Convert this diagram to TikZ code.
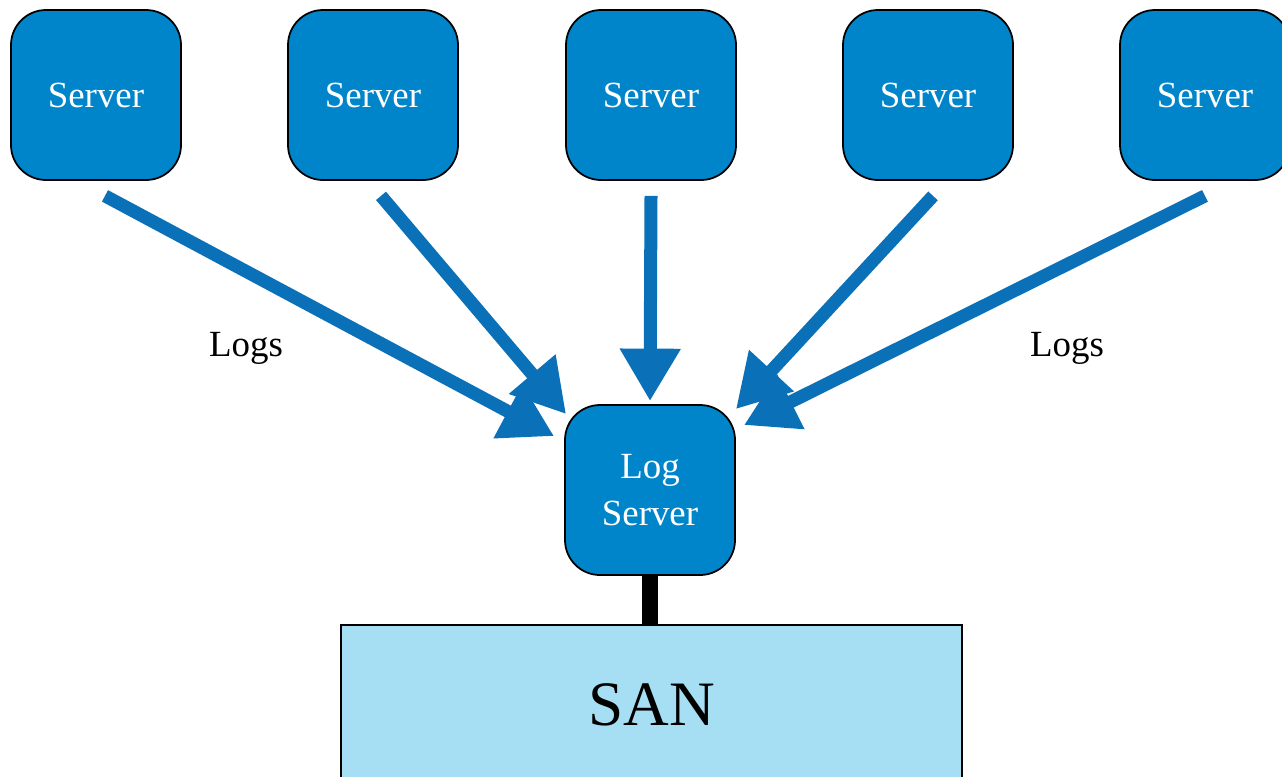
\documentclass[tikz,border=0pt]{standalone}
\usepackage{fontspec}
\setmainfont{Liberation Serif}
\usetikzlibrary{arrows.meta,positioning}
\definecolor{serverblue}{RGB}{0,133,202}
\definecolor{arrowblue}{RGB}{10,113,184}
\definecolor{sanblue}{RGB}{166,222,243}
\begin{document}
\begin{tikzpicture}[server/.style={rectangle,rounded corners=0.7cm,draw,line width=1pt,
		fill=serverblue,text=white,minimum size=3.4cm,inner sep=0,align=center,
		font=\fontsize{21}{27}\selectfont},
	logarrow/.style={arrowblue,line width=0.26cm,-{Triangle[length=1.05cm,width=1.15cm]}},
	san/.style={rectangle,draw,line width=1pt,fill=sanblue,minimum width=12.42cm,
		minimum height=4cm,anchor=north,font=\fontsize{36}{40}\selectfont}]
\clip (0,0) rectangle (25.64,-15.52);
% the five servers in a row
\foreach \i/\x in {1/1.92,2/7.46,3/13.02,4/18.56,5/24.1}
	\node[server] (s\i) at (\x,-1.9) {\raisebox{-1pt}{Server}};
\node[server] (log) at (13,-9.8) {Log\\Server};
\node[san] (san) at (13.03,-12.48) {};
\node at (13.03,-14.1) {\fontsize{36}{40}\selectfont SAN};
\draw[line width=0.32cm] (log.south) -- (log.south |- san.north);
% log traffic
\draw[logarrow] ([xshift=0.18cm,yshift=-0.3cm]s1.south) -- ([xshift=-0.2cm,yshift=-0.64cm]log.north west);
\draw[logarrow] ([xshift=0.16cm,yshift=-0.3cm]s2.south) -- ([xshift=0.04cm,yshift=-0.2cm]log.north west);
\draw[logarrow] ([yshift=-0.3cm]s3.south) -- ([yshift=0.06cm]log.north);
\draw[logarrow] ([xshift=0.1cm,yshift=-0.3cm]s4.south) -- ([yshift=-0.1cm]log.north east);
\draw[logarrow] ([yshift=-0.3cm]s5.south) -- ([xshift=0.16cm,yshift=-0.42cm]log.north east);
\node[font=\fontsize{21}{27}\selectfont] (logsl) at (4.92,-6.96) {Logs};
\node[font=\fontsize{21}{27}\selectfont] (logsr) at (21.34,-6.96) {Logs};
\end{tikzpicture}
\end{document}
